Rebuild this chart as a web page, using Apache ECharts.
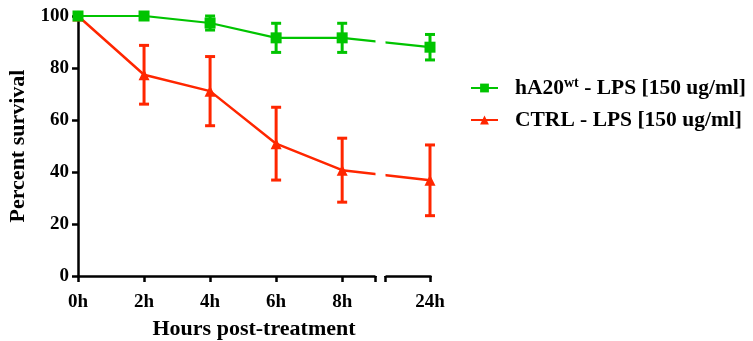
<!DOCTYPE html>
<html>
<head>
<meta charset="utf-8">
<script src="https://cdn.jsdelivr.net/npm/echarts@6.0.0/dist/echarts.min.js"></script>
<style>
  html, body { margin: 0; padding: 0; background: #fff; }
  #chart { width: 753px; height: 341px; }
</style>
</head>
<body>
<div id="chart"></div>
<script>
// hours after LPS treatment
const hours = [0, 2, 4, 6, 8, 24]
const hourLabels = ['0h', '2h', '4h', '6h', '8h', '24h']
// hA20wt - LPS
const wtMean = [100, 100, 97.3, 91.6, 91.6, 88.0]
const wtErr = [0, 0, 2.7, 5.6, 5.6, 4.9]
// CTRL - LPS
const ctrlMean = [100, 77.4, 71.1, 50.9, 40.7, 36.8]
const ctrlErr = [0, 11.3, 13.3, 14.0, 12.3, 13.6]

const GREEN = '#00c400'
const RED = '#ff2600'
const FONT = 'Liberation Serif'

const chart = echarts.init(document.getElementById('chart'))

let pairs = function (means) {
  return hours.map((h, i) => [h, means[i]])
}

let errBars = function (means, errs) {
  return hours.map((h, i) => [h, means[i] - errs[i], means[i] + errs[i]])
}

let errRender = function (color) {
  return function (params, api) {
    const lo = api.coord([api.value(0), api.value(1)])
    const hi = api.coord([api.value(0), api.value(2)])
    if (Math.abs(hi[1] - lo[1]) < 1) return null
    const w = 5
    const style = { stroke: color, lineWidth: 3 }
    return {
      type: 'group',
      children: [
        { type: 'line', shape: { x1: lo[0], y1: lo[1], x2: hi[0], y2: hi[1] }, style: style },
        { type: 'line', shape: { x1: lo[0] - w, y1: lo[1], x2: lo[0] + w, y2: lo[1] }, style: style },
        { type: 'line', shape: { x1: hi[0] - w, y1: hi[1], x2: hi[0] + w, y2: hi[1] }, style: style }
      ]
    }
  }
}

const legendNames = ['hA20wt - LPS [150 ug/ml]', 'CTRL - LPS [150 ug/ml]']

const option = {
  animation: false,
  grid: { left: 78, right: 323, top: 16, bottom: 65, outerBoundsMode: 'none' },
  legend: {
    orient: 'vertical',
    left: 470,
    top: 76,
    padding: 0,
    itemWidth: 27,
    itemHeight: 11,
    itemGap: 10,
    data: legendNames,
    formatter: function (name) {
      if (name.indexOf('hA20') === 0) {
        return '{a|hA20}{sup|wt}{a| - LPS [150 ug/ml]}'
      }
      return '{a|' + name + '}'
    },
    textStyle: {
      padding: [0, 0, 0, 12],
      rich: {
        a: { fontFamily: FONT, fontWeight: 'bold', fontSize: 21.5, color: '#000' },
        sup: { fontFamily: FONT, fontWeight: 'bold', fontSize: 14, color: '#000', padding: [0, 0, 10, 0] }
      }
    }
  },
  xAxis: {
    type: 'value',
    min: 0,
    max: 24,
    breaks: [{ start: 9, end: 22.64, gap: 0.3 }],
    breakArea: {
      show: true,
      itemStyle: { color: '#fff', borderWidth: 0, borderColor: '#fff', opacity: 1 },
      zigzagAmplitude: 0,
      expandOnClick: false
    },
    name: 'Hours post-treatment',
    nameLocation: 'middle',
    nameGap: 42,
    nameTextStyle: { fontFamily: FONT, fontWeight: 'bold', fontSize: 22, color: '#000' },
    splitLine: { show: false },
    axisLine: { lineStyle: { color: '#000', width: 2.5 } },
    axisTick: {
      length: 6,
      lineStyle: { color: '#000', width: 2.5 },
      customValues: [0, 2, 4, 6, 8, 9, 22.64, 24]
    },
    axisLabel: {
      customValues: hours,
      margin: 17,
      fontFamily: FONT, fontWeight: 'bold', fontSize: 19, color: '#000',
      formatter: function (v) { return hourLabels[hours.indexOf(v)] }
    }
  },
  yAxis: {
    type: 'value',
    min: 0,
    max: 100,
    interval: 20,
    name: 'Percent survival',
    nameLocation: 'middle',
    nameGap: 49,
    nameTextStyle: { fontFamily: FONT, fontWeight: 'bold', fontSize: 22, color: '#000' },
    splitLine: { show: false },
    axisLine: { show: true, lineStyle: { color: '#000', width: 2.5 } },
    axisTick: { show: true, length: 6, lineStyle: { color: '#000', width: 2.5 } },
    axisLabel: { margin: 9, fontFamily: FONT, fontWeight: 'bold', fontSize: 19, color: '#000' }
  },
  series: [
    {
      name: legendNames[1],
      type: 'line',
      z: 2,
      symbol: 'triangle',
      symbolSize: 11,
      color: RED,
      lineStyle: { color: RED, width: 2.5 },
      itemStyle: { color: RED },
      data: pairs(ctrlMean)
    },
    {
      type: 'custom',
      z: 2,
      renderItem: errRender(RED),
      data: errBars(ctrlMean, ctrlErr)
    },
    {
      name: legendNames[0],
      type: 'line',
      z: 3,
      symbol: 'rect',
      symbolSize: 11,
      color: GREEN,
      lineStyle: { color: GREEN, width: 2.2 },
      itemStyle: { color: GREEN },
      data: pairs(wtMean)
    },
    {
      type: 'custom',
      z: 3,
      renderItem: errRender(GREEN),
      data: errBars(wtMean, wtErr)
    }
  ]
}

chart.setOption(option)
</script>
</body>
</html>
